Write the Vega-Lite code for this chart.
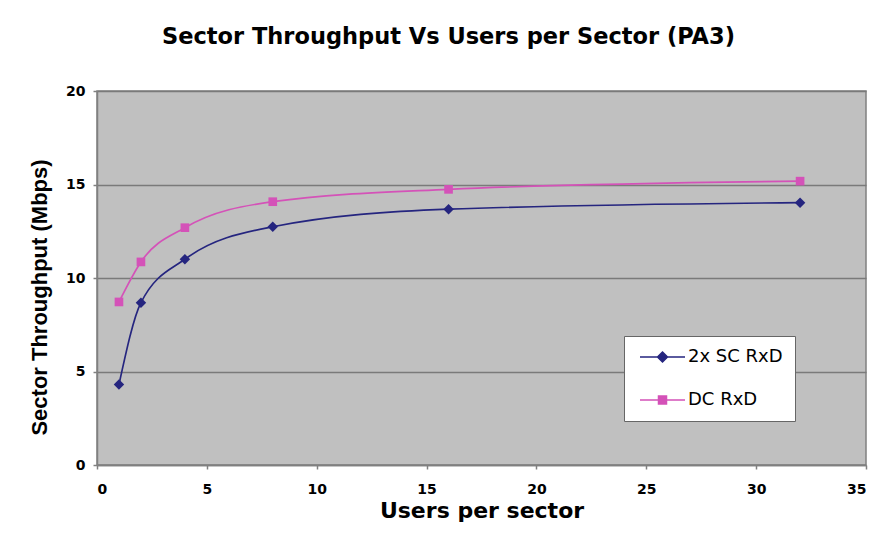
{
  "$schema": "https://vega.github.io/schema/vega-lite/v6.json",
  "width": 769,
  "height": 374,
  "autosize": "none",
  "padding": {"left": 97, "top": 91, "right": 28, "bottom": 70},
  "background": "white",
  "title": {
    "text": "Sector Throughput Vs Users per Sector  (PA3)",
    "font": "DejaVu Sans",
    "fontSize": 22.5,
    "fontWeight": "bold",
    "color": "black",
    "anchor": "middle",
    "dx": -33,
    "offset": 36
  },
  "data": {
    "values": [
      {"users": 1, "throughput": 4.3, "series": "2x SC RxD"},
      {"users": 2, "throughput": 8.68, "series": "2x SC RxD"},
      {"users": 4, "throughput": 11.0, "series": "2x SC RxD"},
      {"users": 8, "throughput": 12.74, "series": "2x SC RxD"},
      {"users": 16, "throughput": 13.68, "series": "2x SC RxD"},
      {"users": 32, "throughput": 14.03, "series": "2x SC RxD"},
      {"users": 1, "throughput": 8.72, "series": "DC RxD"},
      {"users": 2, "throughput": 10.86, "series": "DC RxD"},
      {"users": 4, "throughput": 12.69, "series": "DC RxD"},
      {"users": 8, "throughput": 14.08, "series": "DC RxD"},
      {"users": 16, "throughput": 14.74, "series": "DC RxD"},
      {"users": 32, "throughput": 15.18, "series": "DC RxD"}
    ]
  },
  "encoding": {
    "x": {
      "field": "users",
      "type": "quantitative",
      "scale": {"domain": [0, 35], "nice": false},
      "axis": {
        "title": "Users per sector",
        "values": [0, 5, 10, 15, 20, 25, 30, 35],
        "grid": false,
        "tickSize": 4,
        "labelPadding": 13,
        "titlePadding": 4
      }
    },
    "y": {
      "field": "throughput",
      "type": "quantitative",
      "scale": {"domain": [0, 20], "nice": false},
      "axis": {
        "title": "Sector Throughput (Mbps)",
        "titleFont": "Liberation Sans",
        "titleFontSize": 22,
        "values": [0, 5, 10, 15, 20],
        "grid": true,
        "gridColor": "#7a7a7a",
        "gridWidth": 1.5,
        "tickSize": 4,
        "labelPadding": 8,
        "titlePadding": 14,
        "titleY": 206
      }
    }
  },
  "layer": [
    {
      "mark": {"type": "line", "interpolate": "monotone", "strokeWidth": 1.7},
      "encoding": {
        "color": {
          "field": "series",
          "type": "nominal",
          "scale": {"domain": ["2x SC RxD", "DC RxD"], "range": ["#25257f", "#d452b8"]},
          "legend": {
            "orient": "none",
            "legendX": 527,
            "legendY": 245,
            "title": null,
            "fillColor": "white",
            "strokeColor": "#666666",
            "padding": 12,
            "rowPadding": 25,
            "symbolSize": 100,
            "labelOffset": 34,
            "labelFont": "DejaVu Sans",
            "labelFontSize": 18,
            "labelColor": "black",
            "encode": {
              "symbols": {
                "update": {
                  "shape": {"signal": "datum.value == '2x SC RxD' ? 'M-1,0H8M3.5,-1L4.5,0L3.5,1L2.5,0Z' : 'M-1,0H8M2.7,-0.8H4.3V0.8H2.7Z'"},
                  "fill": {"signal": "datum.value == '2x SC RxD' ? '#25257f' : '#d452b8'"},
                  "strokeWidth": {"value": 1.5}
                }
              }
            }
          }
        }
      }
    },
    {
      "transform": [{"filter": "datum.series == '2x SC RxD'"}],
      "mark": {"type": "point", "filled": true, "opacity": 1, "shape": "diamond", "size": 110},
      "encoding": {
        "color": {
          "field": "series",
          "type": "nominal",
          "scale": {"domain": ["2x SC RxD", "DC RxD"], "range": ["#25257f", "#d452b8"]},
          "legend": null
        }
      }
    },
    {
      "transform": [{"filter": "datum.series == 'DC RxD'"}],
      "mark": {"type": "point", "filled": true, "opacity": 1, "shape": "square", "size": 75},
      "encoding": {
        "color": {
          "field": "series",
          "type": "nominal",
          "scale": {"domain": ["2x SC RxD", "DC RxD"], "range": ["#25257f", "#d452b8"]},
          "legend": null
        }
      }
    }
  ],
  "config": {
    "view": {"fill": "#c0c0c0", "stroke": "#808080", "strokeWidth": 1.5},
    "axis": {
      "labelFont": "DejaVu Sans",
      "labelFontSize": 14,
      "labelFontWeight": "bold",
      "labelColor": "black",
      "titleFont": "DejaVu Sans",
      "titleFontSize": 22,
      "titleFontWeight": "bold",
      "titleColor": "black",
      "domainColor": "#808080",
      "domainWidth": 1.5,
      "tickColor": "#808080",
      "tickWidth": 1.5
    }
  }
}
